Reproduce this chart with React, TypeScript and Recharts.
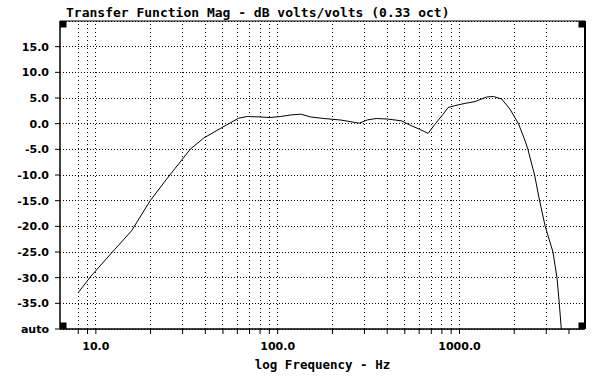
import React from 'react';
import { LineChart, Line, XAxis, YAxis, CartesianGrid, ReferenceLine, ReferenceDot } from 'recharts';

const freqs = [8, 9.4, 12.7, 15.7, 19.9, 24.5, 27.3, 33, 39.2, 49.4, 61, 68, 80.5, 91, 104, 118, 134, 152, 180, 223, 264, 281, 313, 348, 403, 479, 543, 604, 672, 731, 813, 865, 942, 1071, 1217, 1410, 1536, 1706, 1897, 2110, 2296, 2377, 2588, 2757, 2960, 3266, 3436, 3538, 3630];
const mags = [-32.9, -29.7, -24.5, -20.9, -15.0, -10.8, -8.7, -5.0, -2.8, -0.75, 1.07, 1.4, 1.3, 1.2, 1.4, 1.7, 1.85, 1.3, 1.0, 0.7, 0.25, 0.1, 0.75, 1.0, 0.9, 0.55, -0.4, -1.1, -1.9, -0.15, 1.85, 3.15, 3.5, 3.95, 4.3, 5.2, 5.3, 4.8, 2.8, 0.0, -3.35, -5, -10, -15, -20, -25, -30, -35, -40];

const xTicks = [8, 9, 10, 20, 30, 40, 50, 60, 70, 80, 90, 100, 200, 300, 400, 500, 600, 700, 800, 900, 1000, 2000, 3000, 4000];
const xLabeled = [10, 100, 1000];
const gridFreqs = [8, 9, 10, 20, 30, 40, 50, 60, 70, 80, 90, 100, 200, 300, 400, 500, 600, 700, 800, 900, 1000, 2000, 3000];
const yTicks = [-40, -35, -30, -25, -20, -15, -10, -5, 0, 5, 10, 15];

const xMin = 6.35;
const xMax = 4900;
const yMin = -40;
const yMax = 20;

const data = freqs.map((f, i) => ({ f, m: mags[i] }));

const tickFont = { fontFamily: '"DejaVu Sans", sans-serif', fontWeight: 'bold' as const, fontSize: 11, fill: '#000' };

const SQ = 6.5;
const corners = [
  { x: xMin, y: yMax, sx: 0, sy: 0 },
  { x: xMax, y: yMax, sx: -1, sy: 0 },
  { x: xMin, y: yMin, sx: 0, sy: -1 },
  { x: xMax, y: yMin, sx: -1, sy: -1 },
];

export default function App() {
  return (
    <div style={{ position: 'absolute', left: 0, top: 0, width: 598, height: 378, background: '#fff' }}>
      <LineChart width={598} height={378} data={data} margin={{ top: 21, right: 13, bottom: 0, left: 0 }}>
        <CartesianGrid vertical={false} stroke="#000" strokeDasharray="1 2" shapeRendering="crispEdges" />
        {gridFreqs.map((g) => (
          <ReferenceLine key={g} x={g} stroke="#000" strokeDasharray="1 3" shapeRendering="crispEdges" />
        ))}
        <XAxis
          dataKey="f"
          type="number"
          scale="log"
          domain={[xMin, xMax]}
          allowDataOverflow
          ticks={xTicks}
          interval={0}
          tickFormatter={(v: number) => (xLabeled.includes(v) ? v.toFixed(1) : '')}
          height={49}
          tickSize={5}
          tickMargin={8}
          tick={tickFont}
          axisLine={{ stroke: '#000', strokeWidth: 1.5 }}
          tickLine={{ stroke: '#000' }}
          label={{
            value: 'log Frequency - Hz',
            position: 'insideBottom',
            offset: 9,
            style: { fontFamily: '"DejaVu Sans Mono", monospace', fontWeight: 'bold', fontSize: 12.5, fill: '#000' },
          }}
        />
        <YAxis
          type="number"
          domain={[yMin, yMax]}
          allowDataOverflow
          ticks={yTicks}
          interval={0}
          tickFormatter={(v: number) => (v === -40 ? 'auto' : v.toFixed(1))}
          width={60}
          tickSize={5}
          tickMargin={6}
          tick={tickFont}
          axisLine={{ stroke: '#000', strokeWidth: 1.5 }}
          tickLine={{ stroke: '#000' }}
        />
        <ReferenceLine y={yMax} stroke="#000" strokeWidth={1} />
        <ReferenceLine x={xMax} stroke="#000" strokeWidth={2} />
        {corners.map((c, i) => (
          <ReferenceDot
            key={i}
            x={c.x}
            y={c.y}
            r={3}
            shape={(p: any) => (
              <rect x={p.cx + c.sx * SQ} y={p.cy + c.sy * SQ} width={SQ} height={SQ} fill="#000" />
            )}
          />
        ))}
        <Line type="linear" dataKey="m" stroke="#000" strokeWidth={1} dot={false} isAnimationActive={false} />
      </LineChart>
      <svg width={598} height={21} style={{ position: 'absolute', left: 0, top: 0 }}>
        <text x={66} y={17} fontFamily='"DejaVu Sans Mono", monospace' fontWeight="bold" fontSize={13} fill="#000">
          Transfer Function Mag - dB volts/volts (0.33 oct)
        </text>
      </svg>
    </div>
  );
}
